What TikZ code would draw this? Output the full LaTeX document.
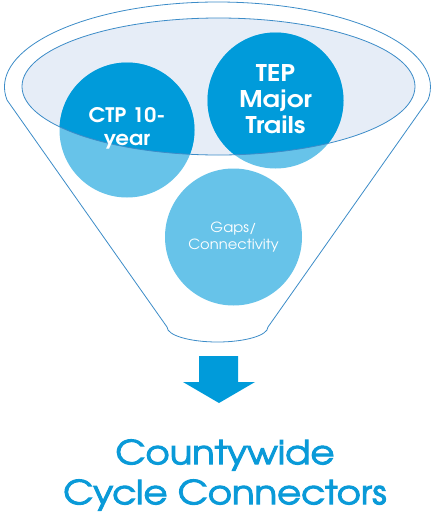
\documentclass[tikz,border=0pt]{standalone}
\usepackage{fontspec}
\setmainfont{texgyreadventor}[Extension=.otf,UprightFont=*-regular,BoldFont=*-bold]
\newfontfamily\titlefont{texgyreadventor}[Extension=.otf,UprightFont=*-regular,FakeStretch=1.12,FakeBold=3]
\newfontfamily\tepfont{texgyreadventor}[Extension=.otf,UprightFont=*-bold,FakeStretch=1.14]
\newfontfamily\ctpfont{texgyreadventor}[Extension=.otf,UprightFont=*-bold,FakeStretch=1.07]
\newfontfamily\gapsfont{texgyreadventor}[Extension=.otf,UprightFont=*-regular,FakeStretch=1.05]
\definecolor{darkblue}{RGB}{0,155,218}
\definecolor{lightblue}{RGB}{103,195,233}
\definecolor{rimfill}{RGB}{230,237,247}
\definecolor{rimline}{RGB}{60,140,200}
\definecolor{titleblue}{RGB}{10,154,216}
\begin{document}
\begin{tikzpicture}[x=1pt,y=-1pt,
  funnelline/.style={draw=rimline,line width=0.8pt},
  bubble/.style={circle,minimum size=#1,inner sep=0pt,text=white,align=center},
]
\useasboundingbox (0,0) rectangle (435,523);
% funnel outline
\draw[funnelline,fill=white] (167,327) -- (7,100)
  arc[start angle=171.2,end angle=368.8,x radius=213,y radius=85]
  -- (268,327)
  arc[start angle=0,end angle=180,x radius=50.5,y radius=15] -- cycle;
% rim ellipse fill
\fill[rimfill] (218.5,86.5) ellipse[x radius=196.5,y radius=68.5];
% light circles
\fill[lightblue] (127,130) circle[radius=67.5];
\fill[lightblue] (275.5,100.5) circle[radius=68];
\fill[lightblue] (233.5,237) circle[radius=68.5];
% darker parts inside the rim
\begin{scope}
  \clip (218.5,86.5) ellipse[x radius=196.5,y radius=68.5];
  \fill[darkblue] (127,130) circle[radius=67.5];
  \fill[darkblue] (275.5,100.5) circle[radius=68];
\end{scope}
% rim outline
\draw[rimline,line width=0.8pt] (218.5,86.5) ellipse[x radius=196.5,y radius=68.5];
% text nodes
\node[bubble=135pt,font=\ctpfont\fontsize{20}{23}\selectfont] (ctp) at (127,128) {CTP 10-\\year};
\node[bubble=136pt,font=\tepfont\fontsize{23}{26}\selectfont] (tep) at (275.5,99) {TEP\\Major\\Trails};
\node[bubble=137pt,font=\gapsfont\fontsize{14}{17}\selectfont] (gaps) at (233.5,237) {Gaps/\\Connectivity};
% arrow
\fill[darkblue] (199,356) -- (238,356) -- (238,382) -- (255,382) -- (219,403) -- (183,382) -- (199,382) -- cycle;
% title
\node[text=titleblue,align=center,font=\titlefont\fontsize{33}{40}\selectfont] (title) at (225,475) {Countywide\\Cycle Connectors};
\end{tikzpicture}
\end{document}
